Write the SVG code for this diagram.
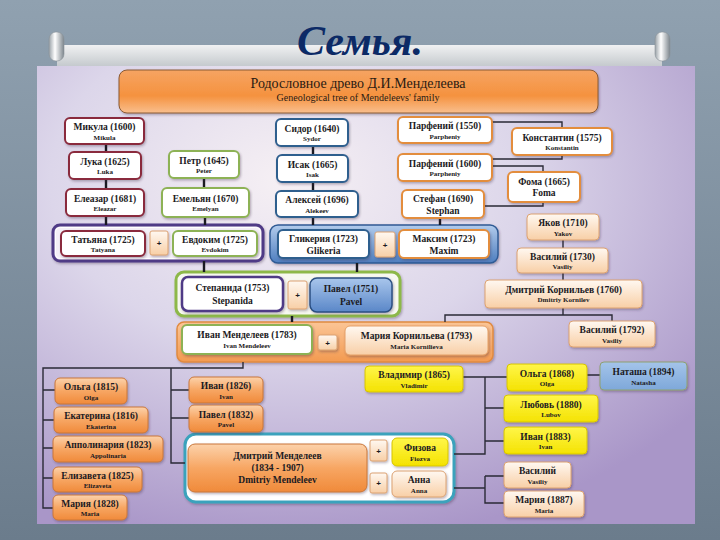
<svg xmlns="http://www.w3.org/2000/svg" width="720" height="540" viewBox="0 0 720 540">
<defs>
<linearGradient id="slide" x1="0" y1="0" x2="0" y2="1"><stop offset="0" stop-color="#90a1b0"/><stop offset="1" stop-color="#6b7c8c"/></linearGradient>
<radialGradient id="pic" cx="0.38" cy="0.25" r="0.8"><stop offset="0" stop-color="#f6f0f4"/><stop offset="0.45" stop-color="#dcd6ea"/><stop offset="1" stop-color="#a996c8"/></radialGradient>
<linearGradient id="bar" x1="0" y1="0" x2="0" y2="1"><stop offset="0" stop-color="#f0f1f2"/><stop offset="1" stop-color="#c3c8cc"/></linearGradient>
<linearGradient id="knob" x1="0" y1="0" x2="1" y2="0"><stop offset="0" stop-color="#9aa2a8"/><stop offset="0.4" stop-color="#ffffff"/><stop offset="1" stop-color="#7d868d"/></linearGradient>
<linearGradient id="hdr" x1="0" y1="0" x2="0" y2="1"><stop offset="0" stop-color="#f6a462"/><stop offset="0.6" stop-color="#f5923f"/><stop offset="1" stop-color="#f9bf8e"/></linearGradient>
<linearGradient id="peach" x1="0" y1="0" x2="0" y2="1"><stop offset="0" stop-color="#fff8f1"/><stop offset="1" stop-color="#f8cfa6"/></linearGradient>
<linearGradient id="orng" x1="0" y1="0" x2="0" y2="1"><stop offset="0" stop-color="#fcd2ab"/><stop offset="0.5" stop-color="#f7a663"/><stop offset="1" stop-color="#f08a3a"/></linearGradient>
<linearGradient id="orgrp" x1="0" y1="0" x2="0" y2="1"><stop offset="0" stop-color="#fbc596"/><stop offset="1" stop-color="#f39a50"/></linearGradient>
<linearGradient id="yel" x1="0" y1="0" x2="0" y2="1"><stop offset="0" stop-color="#fff64a"/><stop offset="1" stop-color="#f4e200"/></linearGradient>
<linearGradient id="blu" x1="0" y1="0" x2="0" y2="1"><stop offset="0" stop-color="#a9c6ec"/><stop offset="1" stop-color="#5a87c8"/></linearGradient>
<linearGradient id="blgrp" x1="0" y1="0" x2="0" y2="1"><stop offset="0" stop-color="#b2cbec"/><stop offset="1" stop-color="#4e7ebf"/></linearGradient>
<linearGradient id="nat" x1="0" y1="0" x2="0" y2="1"><stop offset="0" stop-color="#a4c4ea"/><stop offset="1" stop-color="#7ea8da"/></linearGradient>
<filter id="sh" x="-10%" y="-10%" width="125%" height="140%"><feDropShadow dx="1" dy="1.5" stdDeviation="0.8" flood-color="#3a2a40" flood-opacity="0.35"/></filter>
</defs>
<style>
.box{filter:url(#sh)}
.red{fill:#fff;stroke:#8a2a3c;stroke-width:2}
.grn{fill:#fff;stroke:#8db255;stroke-width:2}
.bl{fill:#fff;stroke:#2f5e8e;stroke-width:2}
.or{fill:#fff;stroke:#e38d3c;stroke-width:2}
.pe{fill:url(#peach);stroke:#dca272;stroke-width:1}
.og{fill:url(#orng);stroke:#c9773a;stroke-width:1}
.ye{fill:url(#yel);stroke:#d6c400;stroke-width:1}
.bf{fill:url(#blu);stroke:#2b4f82;stroke-width:1.5}
.t1{font-family:"Liberation Serif",serif;font-weight:bold;font-size:9.5px;text-anchor:middle;fill:#1b1a22}
.t2{font-family:"Liberation Serif",serif;font-weight:bold;font-size:7px;text-anchor:middle;fill:#1b1a22}
.t3{font-family:"Liberation Serif",serif;font-weight:bold;font-size:9.5px;text-anchor:middle;fill:#1b1a22}
.pl{font-family:"Liberation Sans",sans-serif;font-weight:bold;font-size:8px;text-anchor:middle;fill:#1b1a22}
.ln{fill:none;stroke:#2a2a36;stroke-width:1.4}
.lk{fill:none;stroke:#1a1a22;stroke-width:2.4}
</style>
<rect x="0" y="0" width="720" height="540" fill="url(#slide)"/>
<g id="scroll">
<rect x="57" y="45" width="605" height="22" fill="url(#bar)"/>
<rect x="49" y="32" width="15" height="29" rx="7" fill="url(#knob)" stroke="#8a9299" stroke-width="0.6"/>
<rect x="655" y="32" width="15" height="29" rx="7" fill="url(#knob)" stroke="#8a9299" stroke-width="0.6"/>
</g>
<text x="360" y="55" font-family="Liberation Serif,serif" font-weight="bold" font-style="italic" font-size="42" text-anchor="middle" fill="#0c2a66">Семья.</text>
<rect x="37" y="66" width="658" height="458" fill="url(#pic)"/>
<g id="header">
<rect class="box" x="119" y="70" width="479" height="43" rx="8" fill="url(#hdr)" stroke="#8a5a34" stroke-width="1"/>
<text x="358" y="88" font-family="Liberation Serif,serif" font-size="14" text-anchor="middle" fill="#2a1a12">Родословное древо Д.И.Менделеева</text>
<text x="358" y="101" font-family="Liberation Serif,serif" font-size="10" text-anchor="middle" fill="#2a1a12">Geneological tree of Mendeleevs' family</text>
</g>
<g id="groups">
<rect id="g-purple" class="box" x="53" y="225" width="210" height="36" rx="7" fill="#f4eff7" stroke="#4f3a86" stroke-width="3"/>
<rect x="55.5" y="227.5" width="205" height="31" rx="5" fill="none" stroke="#fff" stroke-width="1"/>
<rect id="g-blue" class="box" x="270" y="225" width="228" height="38" rx="8" fill="url(#blgrp)" stroke="#2f5a94" stroke-width="1.5"/>
<rect id="g-green" class="box" x="176" y="272" width="224" height="44" rx="8" fill="#f7f8f0" stroke="#8db84a" stroke-width="3"/>
<rect id="g-orange" class="box" x="177" y="322" width="316" height="40" rx="7" fill="url(#orgrp)" stroke="#e08a40" stroke-width="1.5"/>
<rect id="g-teal" class="box" x="185" y="434" width="269" height="68" rx="11" fill="#fff" stroke="#3aa2bc" stroke-width="3"/>
</g>
<g id="connectors">
<path class="lk" d="M106,144V152M106,179V189M106,216V225M204,178V188M205,217V225M313,146V155M313,182V191M313,217V225M440,218V225M204,261V272M357,263V272M292,316V322"/>
<path class="ln" d="M492,122H562V128M562,155V159H492M492,166H543V172M543,202V206H484"/>
<path class="ln" d="M563,240V248M563,273V280M563,308V315M445,322V315H612V321"/>
<path class="ln" d="M243,362V368H43V508H53M43,390H55M43,420H54M43,448H53M43,478H53M171,368V463H185M171,390H189M171,418H189"/>
<path class="ln" d="M463,377H485V454H454M485,377H507M485,408H504M485,441H504M587,375H600M454,488H485M485,476V503H504M485,476H504"/>
</g>
<g id="n-mikula"><rect class="box red" x="65" y="118" width="79" height="26" rx="5"/><text class="t1" x="104.5" y="130">Микула (1600)</text><text class="t2" x="104.5" y="139.5">Mikula</text></g>
<g id="n-luka"><rect class="box red" x="69" y="152" width="72" height="27" rx="5"/><text class="t1" x="105" y="164.5">Лука (1625)</text><text class="t2" x="105" y="174">Luka</text></g>
<g id="n-eleazar"><rect class="box red" x="66" y="189" width="78" height="27" rx="5"/><text class="t1" x="105" y="201.5">Елеазар (1681)</text><text class="t2" x="105" y="211">Eleazar</text></g>
<g id="n-petr"><rect class="box grn" x="169" y="151" width="70" height="27" rx="5"/><text class="t1" x="204" y="163.5">Петр (1645)</text><text class="t2" x="204" y="173">Peter</text></g>
<g id="n-emelyan"><rect class="box grn" x="162" y="188" width="87" height="29" rx="5"/><text class="t1" x="205.5" y="201.5">Емельян (1670)</text><text class="t2" x="205.5" y="211">Emelyan</text></g>
<g id="n-sidor"><rect class="box bl" x="276" y="119" width="72" height="27" rx="5"/><text class="t1" x="312" y="131.5">Сидор (1640)</text><text class="t2" x="312" y="141">Sydor</text></g>
<g id="n-isak"><rect class="box bl" x="277" y="155" width="71" height="27" rx="5"/><text class="t1" x="312.5" y="167.5">Исак (1665)</text><text class="t2" x="312.5" y="177">Isak</text></g>
<g id="n-aleksey"><rect class="box bl" x="276" y="191" width="82" height="26" rx="5"/><text class="t1" x="317" y="203">Алексей (1696)</text><text class="t2" x="317" y="212.5">Alekeev</text></g>
<g id="n-parfeniy1550"><rect class="box or" x="398" y="117" width="94" height="26" rx="5"/><text class="t1" x="445" y="129">Парфений (1550)</text><text class="t2" x="445" y="138.5">Parpheniy</text></g>
<g id="n-konstantin"><rect class="box or" x="512" y="128" width="100" height="27" rx="5"/><text class="t1" x="562" y="140.5">Константин (1575)</text><text class="t2" x="562" y="150">Konstantin</text></g>
<g id="n-parfeniy1600"><rect class="box or" x="398" y="154" width="94" height="27" rx="5"/><text class="t1" x="445" y="166.5">Парфений (1600)</text><text class="t2" x="445" y="176">Parpheniy</text></g>
<g id="n-foma"><rect class="box or" x="508" y="172" width="72" height="30" rx="5"/><text class="t1" x="544" y="184.5">Фома (1665)</text><text class="t3" x="544" y="196">Foma</text></g>
<g id="n-stefan"><rect class="box or" x="402" y="190" width="82" height="28" rx="5"/><text class="t1" x="443" y="201.5">Стефан (1690)</text><text class="t3" x="443" y="213.5">Stephan</text></g>
<g id="n-tatyana"><rect class="box red" x="61" y="231" width="84" height="25" rx="5"/><text class="t1" x="103" y="242.5">Татьяна (1725)</text><text class="t2" x="103" y="251.5">Tatyana</text></g>
<g id="p1"><rect class="box pe" x="150" y="231" width="18" height="24" rx="2"/><text class="pl" x="159" y="246">+</text></g>
<g id="n-evdokim"><rect class="box grn" x="173" y="231" width="84" height="25" rx="5"/><text class="t1" x="215" y="242.5">Евдоким (1725)</text><text class="t2" x="215" y="251.5">Evdokim</text></g>
<g id="n-glikeria"><rect class="box bl" x="278" y="230" width="91" height="28" rx="5"/><text class="t1" x="323.5" y="241.5">Гликерия (1723)</text><text class="t3" x="323.5" y="253.5">Glikeria</text></g>
<g id="p2"><rect class="box pe" x="375" y="232" width="20" height="25" rx="2"/><text class="pl" x="385" y="247.5">+</text></g>
<g id="n-maksim"><rect class="box or" x="399" y="230" width="90" height="28" rx="5"/><text class="t1" x="444" y="241.5">Максим (1723)</text><text class="t3" x="444" y="253.5">Maxim</text></g>
<g id="n-yakov"><rect class="box pe" x="527" y="214" width="72" height="26" rx="4"/><text class="t1" x="563" y="226">Яков (1710)</text><text class="t2" x="563" y="235.5">Yakov</text></g>
<g id="n-vasiliy1730"><rect class="box pe" x="517" y="248" width="91" height="25" rx="4"/><text class="t1" x="562.5" y="259.5">Василий (1730)</text><text class="t2" x="562.5" y="268.5">Vasiliy</text></g>
<g id="n-dmitriy-kornilev"><rect class="box pe" x="485" y="280" width="157" height="28" rx="4"/><text class="t1" x="563.5" y="292.5">Дмитрий Корнильев (1760)</text><text class="t2" x="563.5" y="302">Dmitriy Kornilev</text></g>
<g id="n-stepanida"><rect class="box" x="182" y="277" width="101" height="34" rx="6" fill="#fff" stroke="#4f3a86" stroke-width="2.5"/><text class="t1" x="232.5" y="291">Степанида (1753)</text><text class="t3" x="232.5" y="304">Stepanida</text></g>
<g id="p3"><rect class="box pe" x="288" y="281" width="19" height="28" rx="2"/><text class="pl" x="297.5" y="298">+</text></g>
<g id="n-pavel1751"><rect class="box bf" x="310" y="278" width="82" height="34" rx="7"/><text class="t1" x="351" y="292" fill="#0e1e4a">Павел (1751)</text><text class="t3" x="351" y="305">Pavel</text></g>
<g id="n-ivan1783"><rect class="box grn" x="182" y="325" width="130" height="29" rx="5"/><text class="t1" x="247" y="338">Иван Менделеев (1783)</text><text class="t2" x="247" y="347.5">Ivan Mendeleev</text></g>
<g id="p4"><rect class="box pe" x="318" y="335" width="19" height="15" rx="2"/><text class="pl" x="327.5" y="345.5">+</text></g>
<g id="n-maria1793"><rect class="box" x="345" y="326" width="143" height="29" rx="5" fill="url(#peach)" stroke="#e6a066" stroke-width="1"/><text class="t1" x="416.5" y="339">Мария Корнильева (1793)</text><text class="t2" x="416.5" y="348.5">Maria Kornilieva</text></g>
<g id="n-vasiliy1792"><rect class="box pe" x="569" y="321" width="86" height="26" rx="4"/><text class="t1" x="612" y="333">Василий (1792)</text><text class="t2" x="612" y="342.5">Vasiliy</text></g>
<g id="n-olga1815"><rect class="box og" x="55" y="378" width="72" height="26" rx="5"/><text class="t1" x="91" y="390">Ольга (1815)</text><text class="t2" x="91" y="399.5">Olga</text></g>
<g id="n-ekaterina"><rect class="box og" x="54" y="407" width="94" height="26" rx="5"/><text class="t1" x="101" y="419">Екатерина (1816)</text><text class="t2" x="101" y="428.5">Ekaterina</text></g>
<g id="n-appolinaria"><rect class="box og" x="53" y="436" width="110" height="26" rx="5"/><text class="t1" x="108" y="448">Апполинария (1823)</text><text class="t2" x="108" y="457.5">Appolinaria</text></g>
<g id="n-elizaveta"><rect class="box og" x="53" y="467" width="89" height="25" rx="5"/><text class="t1" x="97.5" y="478.5">Елизавета (1825)</text><text class="t2" x="97.5" y="487.5">Elizaveta</text></g>
<g id="n-maria1828"><rect class="box og" x="53" y="495" width="74" height="25" rx="5"/><text class="t1" x="90" y="506.5">Мария (1828)</text><text class="t2" x="90" y="515.5">Maria</text></g>
<g id="n-ivan1826"><rect class="box og" x="189" y="377" width="74" height="26" rx="5"/><text class="t1" x="226" y="389">Иван (1826)</text><text class="t2" x="226" y="398.5">Ivan</text></g>
<g id="n-pavel1832"><rect class="box og" x="189" y="405" width="74" height="27" rx="5"/><text class="t1" x="226" y="417.5">Павел (1832)</text><text class="t2" x="226" y="427">Pavel</text></g>
<g id="n-dmitriy-mendeleev"><rect class="box og" x="188" y="444" width="179" height="48" rx="7"/><text class="t1" x="277.5" y="459" font-size="10.5">Дмитрий Менделеев</text><text class="t1" x="277.5" y="471" font-size="10.5">(1834 - 1907)</text><text class="t1" x="277.5" y="483" font-size="10.5">Dmitriy Mendeleev</text></g>
<g id="p5"><rect class="box pe" x="370" y="440" width="17" height="21" rx="2"/><text class="pl" x="378.5" y="453.5">+</text></g>
<g id="p6"><rect class="box pe" x="370" y="473" width="17" height="20" rx="2"/><text class="pl" x="378.5" y="486">+</text></g>
<g id="n-fiozva"><rect class="box ye" x="392" y="438" width="56" height="28" rx="5"/><text class="t1" x="420" y="450.5">Физова</text><text class="t2" x="420" y="461">Fiozva</text></g>
<g id="n-anna"><rect class="box pe" x="392" y="471" width="54" height="26" rx="5"/><text class="t1" x="419" y="483" font-size="10.5">Анна</text><text class="t2" x="419" y="492.5">Anna</text></g>
<g id="n-vladimir"><rect class="box ye" x="365" y="366" width="98" height="26" rx="4"/><text class="t1" x="414" y="378">Владимир (1865)</text><text class="t2" x="414" y="387.5">Vladimir</text></g>
<g id="n-olga1868"><rect class="box ye" x="507" y="364" width="80" height="27" rx="4"/><text class="t1" x="547" y="376.5">Ольга (1868)</text><text class="t2" x="547" y="386">Olga</text></g>
<g id="n-natasha"><rect class="box" x="600" y="362" width="87" height="28" rx="4" fill="url(#nat)" stroke="#8fa070" stroke-width="1"/><text class="t1" x="643.5" y="375">Наташа (1894)</text><text class="t2" x="643.5" y="384.5">Natasha</text></g>
<g id="n-lubov"><rect class="box ye" x="504" y="395" width="94" height="27" rx="4"/><text class="t1" x="551" y="407.5">Любовь (1880)</text><text class="t2" x="551" y="417">Lubov</text></g>
<g id="n-ivan1883"><rect class="box ye" x="504" y="427" width="83" height="27" rx="4"/><text class="t1" x="545.5" y="439.5">Иван (1883)</text><text class="t2" x="545.5" y="449">Ivan</text></g>
<g id="n-vasiliy"><rect class="box pe" x="504" y="462" width="67" height="26" rx="4"/><text class="t1" x="537.5" y="474">Василий</text><text class="t2" x="537.5" y="483.5">Vasiliy</text></g>
<g id="n-maria1887"><rect class="box pe" x="504" y="491" width="80" height="26" rx="4"/><text class="t1" x="544" y="503">Мария (1887)</text><text class="t2" x="544" y="512.5">Maria</text></g>
</svg>
